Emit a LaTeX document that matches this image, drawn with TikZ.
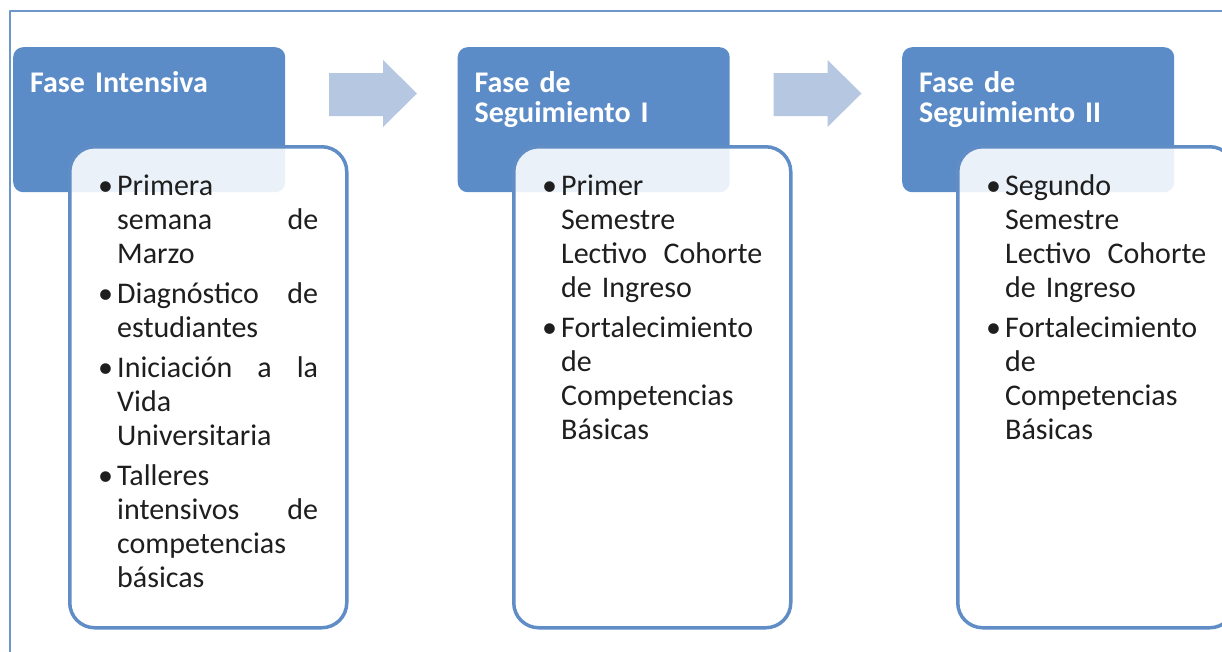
\documentclass[tikz,border=0pt]{standalone}
\usepackage{fontspec}
\setmainfont{Carlito}
\definecolor{hdrblue}{RGB}{91,140,200}
\definecolor{lineblue}{RGB}{96,141,197}
\definecolor{arrowblue}{RGB}{182,199,226}
\definecolor{frameblue}{RGB}{110,152,204}
\definecolor{bodytext}{RGB}{30,30,30}
\hbadness=10000
% one bullet item, lines broken by hand
\newcommand{\bitem}[1]{\noindent\hangindent=19pt\hangafter=1\makebox[19pt][l]{\textbullet}#1\par}
% a line spread over the whole column
\newcommand{\jl}[1]{\hbox to 201pt{#1}}
\begin{document}
\begin{tikzpicture}[x=1pt, y=-1pt, line join=round, line cap=round,
	hbox/.style={fill=hdrblue, rounded corners=10pt, minimum width=272pt, minimum height=145pt, inner sep=0pt, anchor=north west},
	cbox/.style={draw=lineblue, line width=3.5pt, fill=white, fill opacity=0.88, rounded corners=25pt, minimum width=277pt, minimum height=481pt, inner sep=0pt, anchor=north west},
	htext/.style={text=white, font=\bfseries\fontsize{30}{30}\selectfont, text width=250pt, inner sep=0pt, anchor=base west},
	btext/.style={text=bodytext, font=\fontsize{30}{34}\selectfont, text width=220pt, inner sep=0pt, anchor=base west}]
	\useasboundingbox (0,0) rectangle (1222,651);
	\draw[frameblue, line width=2pt] (10,700)--(10,11)--(1260,11);
	% arrows between the phases
	\foreach \dx in {0,444.5}
		\fill[arrowblue] (329+\dx,73)--(383+\dx,73)--(383+\dx,60)--(417+\dx,93.5)--(383+\dx,127)--(383+\dx,116)--(329+\dx,116)--cycle;
	\node[hbox] (head1) at (13,47) {};
	\node[hbox] (head2) at (457.5,47) {};
	\node[hbox] (head3) at (902,47) {};
	\node[htext] (htxt1) at ([xshift=17pt,yshift=-45pt]head1.north west) {Fase Intensiva};
	\node[htext] (htxt2) at ([xshift=17pt,yshift=-45pt]head2.north west) {Fase de\\Seguimiento I};
	\node[htext] (htxt3) at ([xshift=17pt,yshift=-45pt]head3.north west) {Fase de\\Seguimiento II};
	\node[cbox] (cont1) at (68,145) {};
	\node[cbox] (cont2) at (512,145) {};
	\node[cbox] (cont3) at (956,145) {};
	\node[btext] (btxt1) at ([xshift=30pt,yshift=-50pt]cont1.north west) {%
		\bitem{Primera\linebreak \jl{semana\hfill de}\linebreak Marzo}\vspace{6pt}
		\bitem{\jl{Diagnóstico\hfill de}\linebreak estudiantes}\vspace{6pt}
		\bitem{\jl{Iniciación\hfill a\hfill la}\linebreak Vida\linebreak Universitaria}\vspace{6pt}
		\bitem{Talleres\linebreak \jl{intensivos\hfill de}\linebreak competencias\linebreak básicas}};
	\node[btext] (btxt2) at ([xshift=30pt,yshift=-50pt]cont2.north west) {%
		\bitem{Primer\linebreak Semestre\linebreak \jl{Lectivo\hfill Cohorte}\linebreak de Ingreso}\vspace{6pt}
		\bitem{Fortalecimiento\linebreak de\linebreak Competencias\linebreak Básicas}};
	\node[btext] (btxt3) at ([xshift=30pt,yshift=-50pt]cont3.north west) {%
		\bitem{Segundo\linebreak Semestre\linebreak \jl{Lectivo\hfill Cohorte}\linebreak de Ingreso}\vspace{6pt}
		\bitem{Fortalecimiento\linebreak de\linebreak Competencias\linebreak Básicas}};
\end{tikzpicture}
\end{document}
